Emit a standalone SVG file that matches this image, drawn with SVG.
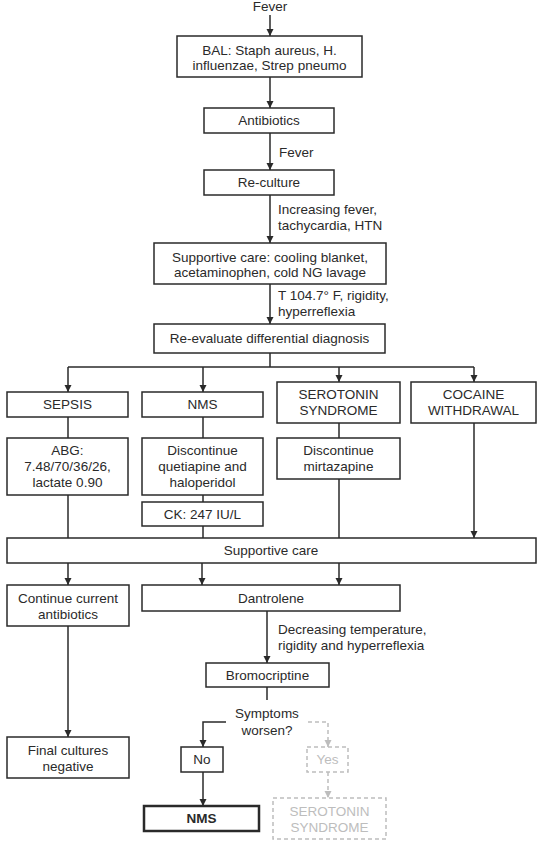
<svg xmlns="http://www.w3.org/2000/svg" width="537" height="841" viewBox="0 0 537 841">
<defs>
<marker id="ah" markerWidth="8" markerHeight="8" refX="7" refY="4" orient="auto" markerUnits="userSpaceOnUse"><path d="M0,0.5 L7,4 L0,7.5 Z" fill="#2a2a2a"/></marker>
<marker id="ahg" markerWidth="8" markerHeight="8" refX="7" refY="4" orient="auto" markerUnits="userSpaceOnUse"><path d="M0,0.5 L7,4 L0,7.5 Z" fill="#bdbdbd"/></marker>
<style>
text{font-family:"Liberation Sans",Arial,sans-serif;font-size:13.5px;fill:#2a2a2a;text-anchor:middle}
.l{text-anchor:start}
rect{fill:#fff;stroke:#2a2a2a;stroke-width:1.5}
.c line,.c path{stroke:#2a2a2a;stroke-width:1.5;fill:none}
.a{marker-end:url(#ah)}
.g rect{stroke:#bdbdbd;stroke-dasharray:4 3}
.g text{fill:#bdbdbd}
.gl{stroke:#bdbdbd !important;stroke-dasharray:4 3;marker-end:url(#ahg)}
</style>
</defs>
<rect x="0" y="0" width="537" height="841" style="fill:#fff;stroke:none"/>
<g class="c" id="connectors">
<line class="a" x1="270" y1="15" x2="270" y2="36"/>
<line class="a" x1="270" y1="77" x2="270" y2="108"/>
<line class="a" x1="270" y1="133" x2="270" y2="170"/>
<line class="a" x1="270" y1="195" x2="270" y2="243"/>
<line class="a" x1="270" y1="284" x2="270" y2="324"/>
<line x1="270" y1="353" x2="270" y2="367"/>
<line x1="68" y1="367" x2="474" y2="367"/>
<line class="a" x1="68" y1="367" x2="68" y2="392"/>
<line class="a" x1="203" y1="367" x2="203" y2="392"/>
<line class="a" x1="339" y1="367" x2="339" y2="382"/>
<line class="a" x1="474" y1="367" x2="474" y2="382"/>
<line x1="68" y1="417" x2="68" y2="438"/>
<line x1="68" y1="495" x2="68" y2="538"/>
<line x1="203" y1="417" x2="203" y2="438"/>
<line x1="203" y1="495" x2="203" y2="502"/>
<line x1="203" y1="526" x2="203" y2="538"/>
<line x1="339" y1="423" x2="339" y2="438"/>
<line x1="339" y1="479" x2="339" y2="538"/>
<line class="a" x1="474" y1="423" x2="474" y2="538"/>
<line class="a" x1="68" y1="563" x2="68" y2="585"/>
<line class="a" x1="202" y1="563" x2="202" y2="585"/>
<line class="a" x1="339" y1="563" x2="339" y2="585"/>
<line class="a" x1="68" y1="626" x2="68" y2="737"/>
<line class="a" x1="267" y1="611" x2="267" y2="663"/>
<line x1="267" y1="687" x2="267" y2="700"/>
<path class="a" d="M226,722 H203 V747"/>
<line class="a" x1="203" y1="772" x2="203" y2="806"/>
<path class="gl" d="M308,722 H328 V747"/>
<line class="gl" x1="328" y1="772" x2="328" y2="798"/>
</g>
<g id="fever0"><text x="270" y="11">Fever</text></g>
<g id="bal"><rect x="177" y="36" width="185" height="41"/><text x="269.5" y="54.5">BAL: Staph aureus, H.</text><text x="269.5" y="69.5">influenzae, Strep pneumo</text></g>
<g id="antibiotics"><rect x="204" y="108" width="130" height="25"/><text x="269" y="125">Antibiotics</text></g>
<g id="lbl-fever"><text class="l" x="279" y="157">Fever</text></g>
<g id="reculture"><rect x="204" y="170" width="130" height="25"/><text x="269" y="187">Re-culture</text></g>
<g id="lbl-increasing"><text class="l" x="278" y="214">Increasing fever,</text><text class="l" x="278" y="230">tachycardia, HTN</text></g>
<g id="supportive1"><rect x="154" y="243" width="232" height="41"/><text x="270" y="261.5">Supportive care: cooling blanket,</text><text x="270" y="276.5">acetaminophen, cold NG lavage</text></g>
<g id="lbl-temp"><text class="l" x="278" y="300">T 104.7° F, rigidity,</text><text class="l" x="278" y="316">hyperreflexia</text></g>
<g id="reevaluate"><rect x="154" y="324" width="231" height="29"/><text x="269.5" y="343">Re-evaluate differential diagnosis</text></g>
<g id="sepsis"><rect x="7" y="392" width="121" height="25"/><text x="67.5" y="409">SEPSIS</text></g>
<g id="nms1"><rect x="142" y="392" width="121" height="25"/><text x="202.5" y="409">NMS</text></g>
<g id="serotonin1"><rect x="277" y="382" width="123" height="41"/><text x="338.5" y="399">SEROTONIN</text><text x="338.5" y="415">SYNDROME</text></g>
<g id="cocaine"><rect x="411" y="382" width="125" height="41"/><text x="473.5" y="399">COCAINE</text><text x="473.5" y="415">WITHDRAWAL</text></g>
<g id="abg"><rect x="7" y="438" width="121" height="57"/><text x="67.5" y="455">ABG:</text><text x="67.5" y="471">7.48/70/36/26,</text><text x="67.5" y="487">lactate 0.90</text></g>
<g id="discontinue-q"><rect x="142" y="438" width="121" height="57"/><text x="202.5" y="455">Discontinue</text><text x="202.5" y="471">quetiapine and</text><text x="202.5" y="487">haloperidol</text></g>
<g id="ck"><rect x="142" y="502" width="121" height="24"/><text x="202.5" y="518.5">CK: 247 IU/L</text></g>
<g id="discontinue-m"><rect x="277" y="438" width="123" height="41"/><text x="338.5" y="455">Discontinue</text><text x="338.5" y="471">mirtazapine</text></g>
<g id="supportive2"><rect x="7" y="538" width="529" height="25"/><text x="271" y="555">Supportive care</text></g>
<g id="continue"><rect x="7" y="585" width="122" height="41"/><text x="68" y="603">Continue current</text><text x="68" y="619">antibiotics</text></g>
<g id="dantrolene"><rect x="142" y="585" width="258" height="26"/><text x="271" y="602.5">Dantrolene</text></g>
<g id="lbl-decreasing"><text class="l" x="278" y="634">Decreasing temperature,</text><text class="l" x="278" y="650">rigidity and hyperreflexia</text></g>
<g id="bromocriptine"><rect x="206" y="663" width="123" height="24"/><text x="267.5" y="680">Bromocriptine</text></g>
<g id="symptoms"><text x="267" y="718">Symptoms</text><text x="267" y="735">worsen?</text></g>
<g id="no"><rect x="181" y="747" width="42" height="25"/><text x="202" y="764">No</text></g>
<g id="nms-final"><rect x="144" y="806" width="115" height="25" style="stroke-width:2.5"/><text x="201.5" y="823" style="font-weight:bold">NMS</text></g>
<g id="final-cultures"><rect x="7" y="737" width="122" height="41"/><text x="68" y="754.5">Final cultures</text><text x="68" y="770.5">negative</text></g>
<g id="yes" class="g"><rect x="307" y="747" width="41" height="25"/><text x="327.5" y="764">Yes</text></g>
<g id="serotonin2" class="g"><rect x="273" y="798" width="113" height="41"/><text x="329.5" y="816">SEROTONIN</text><text x="329.5" y="832">SYNDROME</text></g>
</svg>
